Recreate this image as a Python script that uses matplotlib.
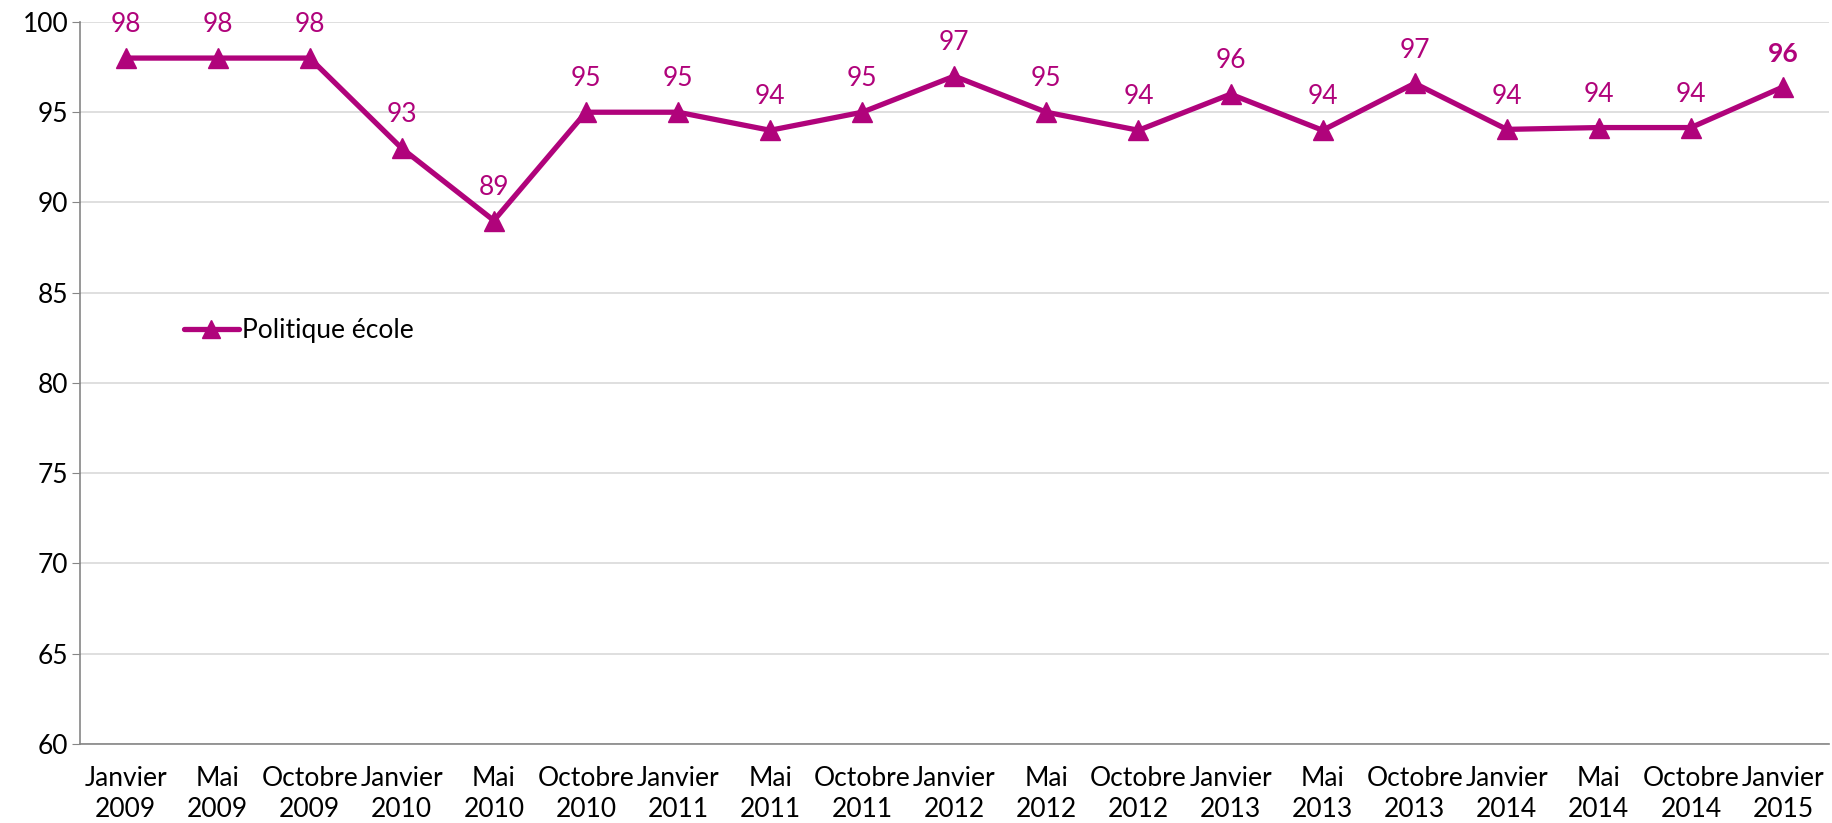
import matplotlib
matplotlib.use("Agg")
import matplotlib.pyplot as plt
from matplotlib.lines import Line2D

categories = ["Janvier\n2009", "Mai\n2009", "Octobre\n2009", "Janvier\n2010", "Mai\n2010",
              "Octobre\n2010", "Janvier\n2011", "Mai\n2011", "Octobre\n2011", "Janvier\n2012",
              "Mai\n2012", "Octobre\n2012", "Janvier\n2013", "Mai\n2013", "Octobre\n2013",
              "Janvier\n2014", "Mai\n2014", "Octobre\n2014", "Janvier\n2015"]
values = [98, 98, 98, 93, 89, 95, 95, 94, 95, 97, 95, 94, 96, 94, 96.6, 94.05, 94.15, 94.15, 96.4]
labels = ["98", "98", "98", "93", "89", "95", "95", "94", "95", "97", "95", "94", "96", "94",
          "97", "94", "94", "94", "96"]
series_name = "Politique école"
yticks = [60, 65, 70, 75, 80, 85, 90, 95, 100]

color = "#B0037B"
plt.rcParams['font.family'] = ['Lato', 'DejaVu Sans']
FS = 19

fig = plt.figure(figsize=(18.32, 8.23), dpi=100)
ax = fig.add_axes([0.0434, 0.096, 0.955, 0.8773])

x = list(range(len(categories)))
ax.plot(x, values, color=color, lw=3.8, marker='^', markersize=15,
        markerfacecolor=color, markeredgecolor=color, zorder=3, solid_joinstyle='miter')

for i, (v, lab) in enumerate(zip(values, labels)):
    ax.annotate(lab, (i, v), xytext=(0, 24), textcoords='offset points',
                ha='center', va='center', fontsize=FS, color=color,
                fontweight='bold' if i == len(values) - 1 else 'normal')

ax.set_xlim(-0.5, len(categories) - 0.5)
ax.set_ylim(60, 100)
ax.set_yticks(yticks)
ax.set_xticks(x)
ax.set_xticklabels(categories, fontsize=FS, linespacing=1.28)
ax.tick_params(axis='y', labelsize=FS, length=6, color='#868686', pad=2)
ax.tick_params(axis='x', length=0, pad=16)
ax.yaxis.grid(True, color='#D9D9D9', lw=1.2)
ax.set_axisbelow(True)
for s in ['top', 'right']:
    ax.spines[s].set_visible(False)
ax.spines['left'].set_color('#868686')
ax.spines['bottom'].set_color('#868686')
ax.spines['left'].set_linewidth(1.2)
ax.spines['bottom'].set_linewidth(1.2)

handle = Line2D([], [], color=color, lw=3.8, marker='^', markersize=13, solid_capstyle='round')
ax.legend([handle], [series_name], loc='center left', bbox_to_anchor=(0.046, 0.572),
          frameon=False, fontsize=FS, handlelength=2.1, handletextpad=0.1)

fig.savefig("out.png", dpi=100)
